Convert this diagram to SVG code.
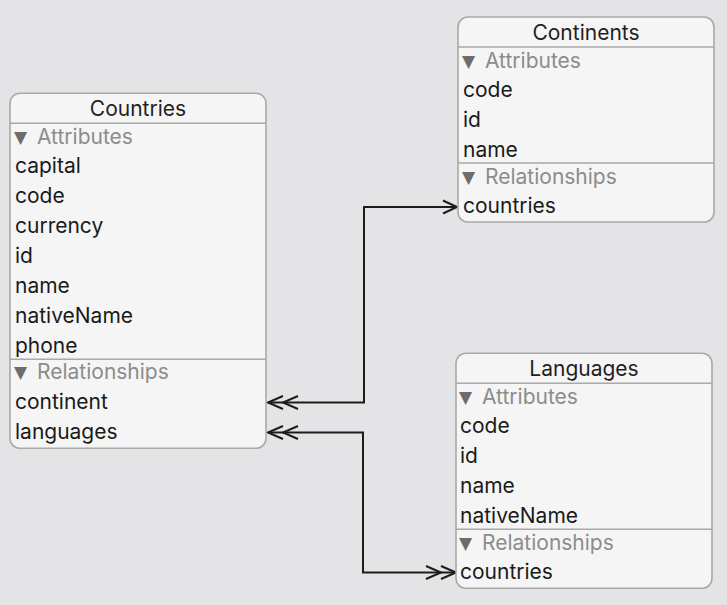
<svg xmlns="http://www.w3.org/2000/svg" width="727" height="605" viewBox="0 0 727 605">
<style>
.box{fill:#f5f5f5;stroke:#a9a9a9;stroke-width:1.6}
.sep{stroke:#a9a9a9;stroke-width:1.4;fill:none}
.title{font-family:Inter,"Liberation Sans",sans-serif;font-size:21px;fill:#1f1f1f;text-anchor:middle}
.row{font-family:Inter,"Liberation Sans",sans-serif;font-size:21px;fill:#1a1a1a}
.sec{font-family:Inter,"Liberation Sans",sans-serif;font-size:21px;fill:#8c8c8c}
.tri{font-family:"DejaVu Sans",sans-serif;font-size:17px;fill:#6c6c6c}
.conn{fill:none;stroke:#1c1c1c;stroke-width:2}
</style>
<defs>
<marker id="many" markerUnits="userSpaceOnUse" viewBox="-32 -9 34 18" refX="0" refY="0" markerWidth="34" markerHeight="18" orient="auto-start-reverse" overflow="visible">
<path d="M-15,-6.5 L0,0 L-15,6.5 M-30,-6.5 L-15,0 L-30,6.5" fill="none" stroke="#1c1c1c" stroke-width="2"/>
</marker>
<marker id="one" markerUnits="userSpaceOnUse" viewBox="-16 -9 18 18" refX="0" refY="0" markerWidth="18" markerHeight="18" orient="auto-start-reverse" overflow="visible">
<path d="M-14,-6.5 L0,0 L-14,6.5" fill="none" stroke="#1c1c1c" stroke-width="2"/>
</marker>
</defs>
<rect width="727" height="605" fill="#e4e4e6"/>
<g id="connectors">
<path class="conn" d="M268,402.5 H364 V207 H457" marker-start="url(#many)" marker-end="url(#one)"/>
<path class="conn" d="M268,432.5 H363 V572.5 H456" marker-start="url(#many)" marker-end="url(#many)"/>
</g>
<g id="countries">
<rect class="box" x="10" y="93.3" width="256" height="355" rx="10"/>
<path class="sep" d="M10,123.3 H266 M10,359.3 H266"/>
<text class="title" x="138" y="115.5">Countries</text>
<text x="14" y="144"><tspan class="tri" dy="-1">▼</tspan><tspan class="sec" x="37" dy="1">Attributes</tspan></text>
<text class="row" x="15" y="173.3">capital</text>
<text class="row" x="15" y="203.3">code</text>
<text class="row" x="15" y="233.3">currency</text>
<text class="row" x="15" y="263.3">id</text>
<text class="row" x="15" y="293.3">name</text>
<text class="row" x="15" y="323.3">nativeName</text>
<text class="row" x="15" y="353.3">phone</text>
<text x="14" y="379"><tspan class="tri" dy="-1">▼</tspan><tspan class="sec" x="37" dy="1">Relationships</tspan></text>
<text class="row" x="15" y="409.3">continent</text>
<text class="row" x="15" y="439.3">languages</text>
</g>
<g id="continents">
<rect class="box" x="458" y="17" width="256" height="205" rx="10"/>
<path class="sep" d="M458,47 H714 M458,163 H714"/>
<text class="title" x="586" y="39.5">Continents</text>
<text x="462" y="68"><tspan class="tri" dy="-1">▼</tspan><tspan class="sec" x="485" dy="1">Attributes</tspan></text>
<text class="row" x="463" y="97">code</text>
<text class="row" x="463" y="127">id</text>
<text class="row" x="463" y="157">name</text>
<text x="462" y="183.5"><tspan class="tri" dy="-1">▼</tspan><tspan class="sec" x="485" dy="1">Relationships</tspan></text>
<text class="row" x="463" y="213">countries</text>
</g>
<g id="languages">
<rect class="box" x="456" y="353.3" width="256" height="235" rx="10"/>
<path class="sep" d="M456,383.3 H712 M456,529.3 H712"/>
<text class="title" x="584" y="376">Languages</text>
<text x="459" y="404"><tspan class="tri" dy="-1">▼</tspan><tspan class="sec" x="482" dy="1">Attributes</tspan></text>
<text class="row" x="460" y="433.3">code</text>
<text class="row" x="460" y="463.3">id</text>
<text class="row" x="460" y="493.3">name</text>
<text class="row" x="460" y="523.3">nativeName</text>
<text x="459" y="549.5"><tspan class="tri" dy="-1">▼</tspan><tspan class="sec" x="482" dy="1">Relationships</tspan></text>
<text class="row" x="460" y="579.3">countries</text>
</g>
</svg>
